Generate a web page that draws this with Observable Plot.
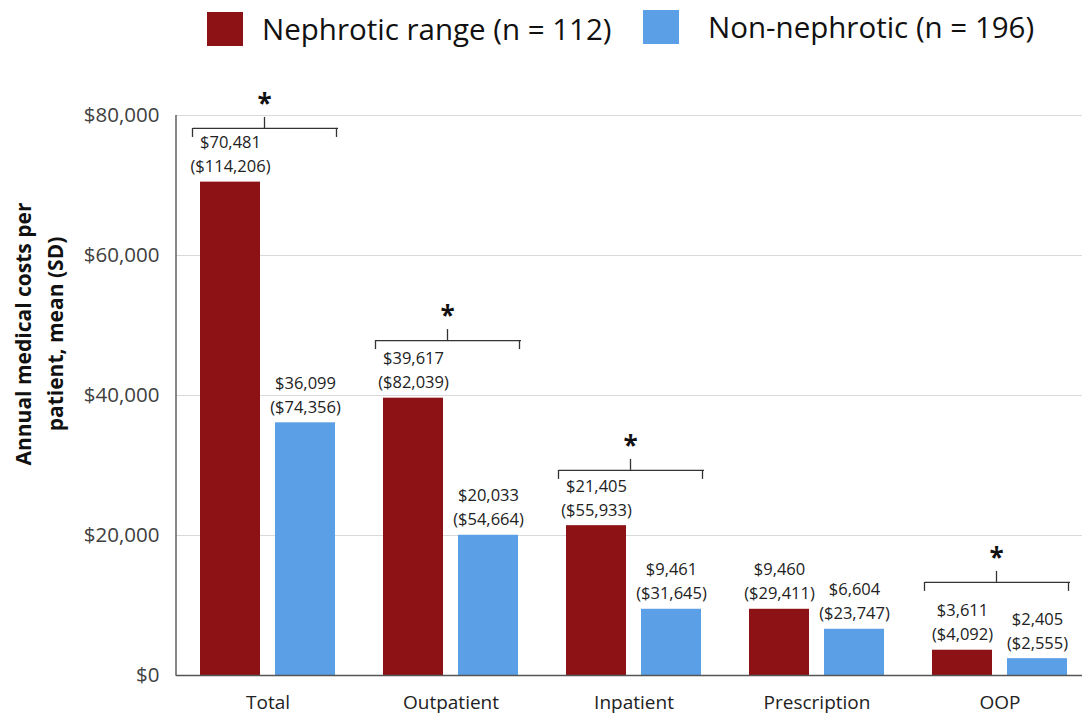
<!DOCTYPE html>
<html>
<head>
<meta charset="utf-8">
<script src="https://cdn.jsdelivr.net/npm/d3@7"></script>
<script src="https://cdn.jsdelivr.net/npm/@observablehq/plot@0.6"></script>
<style>
  html, body { margin: 0; padding: 0; background: #fff; overflow: hidden; }
  body { width: 1082px; height: 715px; font-family: "Open Sans", sans-serif; }
  #legend { position: relative; height: 60px; width: 1082px; }
  .sw { position: absolute; width: 36px; height: 34px; }
  .lt { position: absolute; font-size: 29.5px; line-height: 34px; color: #111; white-space: nowrap; }
  svg { max-width: none !important; overflow: visible; }
</style>
</head>
<body>
<div id="legend"></div>
<div id="chart"></div>
<script>
// ---- data ----
const categories = ["Total", "Outpatient", "Inpatient", "Prescription", "OOP"];
const groups = ["Nephrotic range (n = 112)", "Non-nephrotic (n = 196)"];
const nephroticMean = [70481, 39617, 21405, 9460, 3611];
const nephroticSD   = [114206, 82039, 55933, 29411, 4092];
const nonNephroticMean = [36099, 20033, 9461, 6604, 2405];
const nonNephroticSD   = [74356, 54664, 31645, 23747, 2555];
const significant = [true, true, true, false, true];
const bracketLevel = [78150, 47850, 29300, null, 13300];
const yTicks = [0, 20000, 40000, 60000, 80000];
const colors = ["#8c1215", "#5b9fe6"];

// ---- tables built from the arrays ----
const rows = [];
categories.forEach((c, i) => {
  rows.push({category: c, group: groups[0], mean: nephroticMean[i], sd: nephroticSD[i]});
  rows.push({category: c, group: groups[1], mean: nonNephroticMean[i], sd: nonNephroticSD[i]});
});
const brackets = categories
  .map((c, i) => ({category: c, level: bracketLevel[i], sig: significant[i]}))
  .filter(d => d.sig);

const fmt = d3.format(",");
const money = v => "$" + fmt(v);

// ---- legend ----
const legend = document.getElementById("legend");
[[207, 12, 262], [643, 10, 708]].forEach(([sx, sy, tx], i) => {
  const s = document.createElement("div");
  s.className = "sw"; s.style.left = sx + "px"; s.style.top = sy + "px"; s.style.background = colors[i];
  legend.appendChild(s);
  const t = document.createElement("div");
  t.className = "lt"; t.style.left = tx + "px"; t.style.top = sy + "px"; t.textContent = groups[i];
  legend.appendChild(t);
});

const ink = "#404040";
const bracketStyle = {stroke: "#333", strokeWidth: 1.3};
const first = () => groups[0];
const second = () => groups[1];
const chart = Plot.plot({
  width: 1092,
  height: 655,
  marginLeft: 174,
  marginRight: 0,
  marginTop: 55,
  marginBottom: 40,
  style: {fontFamily: "Open Sans, sans-serif", color: "#222", background: "transparent"},
  fx: {domain: categories, padding: 0, label: null},
  x: {domain: groups, paddingInner: 0.2, paddingOuter: 0.32, axis: null},
  y: {domain: [0, 80000], axis: null},
  color: {domain: groups, range: colors},
  marks: [
    Plot.ruleY(yTicks.filter(t => t > 0), {stroke: "#d9d9d9", strokeWidth: 1.2}),
    Plot.barY(rows, {fx: "category", x: "group", y: "mean", fill: "group"}),
    Plot.ruleY([0], {stroke: "#555", strokeWidth: 1.4}),
    Plot.text(rows, {
      fx: "category", x: "group", y: "mean",
      text: d => money(d.mean) + "\n(" + money(d.sd) + ")",
      lineAnchor: "bottom", dy: -10, fontSize: 16.5, lineHeight: 1.45, fill: "#222"
    }),
    // significance brackets
    Plot.ruleY(brackets, {fx: "category", y: "level", insetLeft: 17, insetRight: 21, ...bracketStyle}),
    Plot.ruleX(brackets, {fx: "category", x: first, y1: "level", y2: "level", insetBottom: -9, dx: -38, ...bracketStyle}),
    Plot.ruleX(brackets, {fx: "category", x: second, y1: "level", y2: "level", insetBottom: -9, dx: 31, ...bracketStyle}),
    Plot.ruleX(brackets, {fx: "category", x: first, y1: "level", y2: "level", insetTop: -11, dx: 34, ...bracketStyle}),
    Plot.text(brackets, {fx: "category", x: first, y: "level", text: () => "*", dy: -24, dx: 34, fontSize: 26, fontWeight: "bold", fill: "#111"}),
    Plot.axisY({ticks: yTicks, tickFormat: money, tickSize: 0, tickPadding: 17, fontSize: 20.5, label: null, fill: ink}),
    Plot.axisFx({anchor: "bottom", tickSize: 0, tickPadding: 20, fontSize: 19, label: null, fill: "#222"})
  ]
});
document.getElementById("chart").appendChild(chart);

const svg = d3.select(chart.tagName.toLowerCase() === "svg" ? chart : chart.querySelector("svg"));

// y-axis line, placed with the plot's own scales
let yS = null, fxS = null;
try { yS = chart.scale("y"); fxS = chart.scale("fx"); } catch (e) {}
const axisX = fxS ? fxS.apply(categories[0]) : 174;
const yLo = yS ? yS.apply(yTicks[0]) : 615;
const yHi = yS ? yS.apply(yTicks[yTicks.length - 1]) : 55;
svg.append("line")
  .attr("x1", axisX).attr("x2", axisX)
  .attr("y1", yLo + 0.7).attr("y2", yHi)
  .attr("stroke", "#555").attr("stroke-width", 1.4);

// two-line bold y-axis title
const title = svg.append("text")
  .attr("transform", "translate(41, 274) rotate(-90)")
  .attr("text-anchor", "middle")
  .attr("font-family", "Open Sans, sans-serif")
  .attr("font-weight", "bold")
  .attr("font-size", 21)
  .attr("fill", "#111");
title.append("tspan").attr("x", 0).attr("dy", "-0.5em").text("Annual medical costs per");
title.append("tspan").attr("x", 0).attr("dy", "1.55em").text("patient, mean (SD)");
</script>
</body>
</html>
